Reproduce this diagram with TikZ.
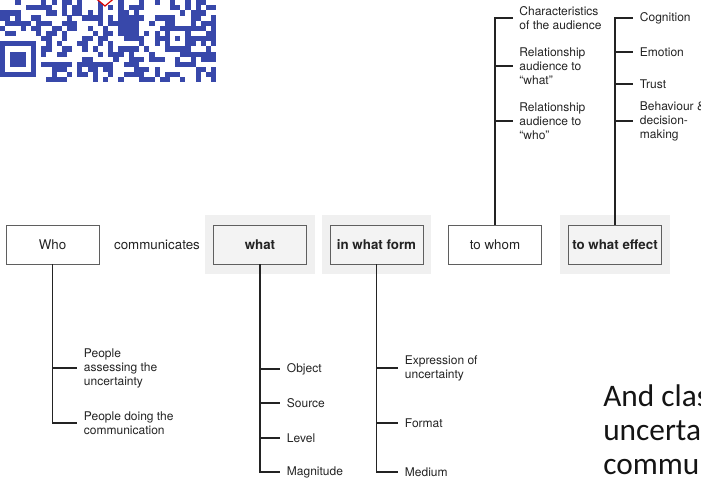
\documentclass[tikz,border=0pt]{standalone}
\usepackage{fontspec}
\setmainfont{TeX Gyre Heros}
\newfontfamily\slidefont{Carlito}
\usetikzlibrary{backgrounds}
\definecolor{qrblue}{RGB}{56,72,170}
\definecolor{panelgray}{RGB}{240,240,240}
\definecolor{boxgray}{RGB}{243,243,243}
\definecolor{edgegray}{RGB}{95,95,95}
\definecolor{inkgray}{RGB}{35,35,35}

\tikzset{
  mainbox/.style={draw=edgegray, line width=0.7pt, minimum width=69.75pt, minimum height=29.25pt,
    inner sep=0pt, text=inkgray, font=\fontsize{10}{12}\selectfont},
  keybox/.style={mainbox, fill=boxgray, font=\fontsize{10}{12}\selectfont\bfseries},
  leaf/.style={anchor=west, inner xsep=5pt, inner ysep=0pt, align=left, text=inkgray,
    font=\fontsize{9}{10.5}\selectfont},
  branch/.style={draw=inkgray, line width=1.15pt}
}

\begin{document}
\begin{tikzpicture}[x=0.75pt,y=-0.75pt]
    \useasboundingbox (0,0) rectangle (701,480);
    \clip (0,0) rectangle (701,480);

    % qr code in the corner
    \pgfmathsetseed{4242}
    \foreach \r in {0,...,15}
    \foreach \c in {0,...,41}{
      \pgfmathrandominteger{\q}{0}{1}
      \ifnum\q=1 \fill[qrblue] (\c*5.15,\r*5.15) rectangle ++(5.2,5.2); \fi
    }
    \fill[white] (0,7*5.15) rectangle (8*5.15,16*5.15);
    \fill[qrblue] (0,8*5.15) rectangle (7*5.15,15*5.15);
    \fill[white] (5.15,9*5.15) rectangle (6*5.15,14*5.15);
    \fill[qrblue] (2*5.15,10*5.15) rectangle (5*5.15,13*5.15);
    \fill[qrblue] (32*5.15,5*5.15) rectangle (37*5.15,10*5.15);
    \fill[white] (33*5.15,6*5.15) rectangle (36*5.15,9*5.15);
    \fill[qrblue] (34*5.15,7*5.15) rectangle (35*5.15,8*5.15);
    \filldraw[fill=white, draw=red!85!black, line width=0.9pt] (93,-4) -- (105,6) -- (117,-4) -- cycle;

    % main row
    \node[mainbox] (who) at (52.5,244.5) {Who};
    \node[text=inkgray, font=\fontsize{10}{12}\selectfont] (verb) at (157,244.5) {communicates};
    \node[keybox] (what) at (260,244.5) {what};
    \node[keybox] (form) at (376.5,244.5) {in what form};
    \node[mainbox] (whom) at (495,244.5) {to whom};
    \node[keybox] (effect) at (615,244.5) {to what effect};
    \begin{scope}[on background layer]
      \foreach \n in {what,form,effect}
      \fill[panelgray] ([shift={(-8,-10)}]\n.north west) rectangle ([shift={(8,10)}]\n.south east);
    \end{scope}

    % who
    \node[leaf] (who1) at (77,368) {People\\assessing the\\uncertainty};
    \node[leaf] (who2) at (77,423) {People doing the\\communication};
    \draw[branch] (who.south) |- (who2.west);
    \draw[branch] (who.south |- who1.west) -- (who1.west);

    % what
    \node[leaf] (what1) at (280,369) {Object};
    \node[leaf] (what2) at (280,403) {Source};
    \node[leaf] (what3) at (280,438) {Level};
    \node[leaf] (what4) at (280,472) {Magnitude};
    \draw[branch] (what.south) |- (what4.west);
    \foreach \k in {1,2,3}
    \draw[branch] (what.south |- what\k.west) -- (what\k.west);

    % in what form
    \node[leaf] (form1) at (398,368) {Expression of\\uncertainty};
    \node[leaf] (form2) at (398,423) {Format};
    \node[leaf] (form3) at (398,472) {Medium};
    \draw[branch] (form.south) |- (form3.west);
    \foreach \k in {1,2}
    \draw[branch] (form.south |- form\k.west) -- (form\k.west);

    % to whom
    \node[leaf] (whom1) at (512.5,18) {Characteristics\\of the audience};
    \node[leaf] (whom2) at (512.5,66) {Relationship\\audience to\\``what''};
    \node[leaf] (whom3) at (512.5,121) {Relationship\\audience to\\``who''};
    \draw[branch] (whom.north) |- (whom1.west);
    \foreach \k in {2,3}
    \draw[branch] (whom.north |- whom\k.west) -- (whom\k.west);

    % to what effect
    \node[leaf] (eff1) at (633,18) {Cognition};
    \node[leaf] (eff2) at (633,52) {Emotion};
    \node[leaf] (eff3) at (633,84) {Trust};
    \node[leaf] (eff4) at (633,121) {Behaviour \&\\decision-\\making};
    \draw[branch] (effect.north) |- (eff1.west);
    \foreach \k in {2,3,4}
    \draw[branch] (effect.north |- eff\k.west) -- (eff\k.west);

    % slide text, cut at the edge
    \node[anchor=north west, inner sep=0pt, align=left, text=black!92,
      font=\slidefont\fontsize{23.5}{25.5}\selectfont] (tail) at (603,384) {And classify\\uncertainty\\communication};
\end{tikzpicture}
\end{document}
